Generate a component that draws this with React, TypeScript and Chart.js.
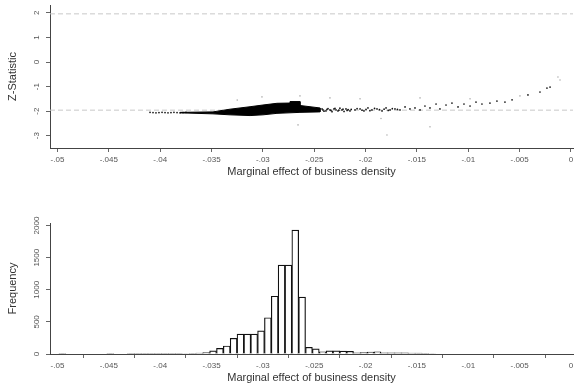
import React, { useEffect, useRef } from "react";
import { Chart, registerables } from "chart.js";

Chart.register(...registerables);

// ---- shared axis ticks ----
const xTickValues = [-0.05, -0.045, -0.04, -0.035, -0.03, -0.025, -0.02, -0.015, -0.01, -0.005, 0];
const xTickLabels = ["-.05", "-.045", "-.04", "-.035", "-.03", "-.025", "-.02", "-.015", "-.01", "-.005", "0"];
const xMin = -0.05073;
const xMax = 0.000195;

// ---- top panel: Z-statistic vs marginal effect ----
const zTickValues = [-3, -2, -1, 0, 1, 2];
const zTickLabels = ["-3", "-2", "-1", "0", "1", "2"];
const criticalZ = [1.96, -1.96];

// outline of the dense cloud of points
const wedgeX = [-0.03807, -0.03486, -0.0332, -0.03125, -0.02999, -0.02863, -0.02736, -0.02736, -0.02639, -0.02639, -0.02444,
  -0.02444, -0.02639, -0.02863, -0.02999, -0.03125, -0.0332, -0.03486, -0.03807];
const wedgeZ = [-2.05, -2.03, -1.92, -1.82, -1.75, -1.68, -1.67, -1.61, -1.61, -1.77, -1.87,
  -2.03, -2.05, -2.09, -2.15, -2.18, -2.15, -2.11, -2.07];

// individual points
const pointX = [
  -0.04099, -0.0407, -0.04041, -0.04012, -0.03982, -0.03953, -0.03924, -0.03895, -0.03866, -0.03836, -0.03807, -0.03778, -0.03749,
  -0.02424, -0.02386, -0.02347, -0.02308, -0.02269, -0.0223, -0.02191, -0.02152,
  -0.02405, -0.02366, -0.02327, -0.02288, -0.0225, -0.0221, -0.0217,
  -0.02415, -0.02376, -0.02337, -0.02298, -0.0226, -0.0222, -0.0218, -0.0214,
  -0.02103, -0.02054, -0.02016, -0.01977, -0.01938, -0.01889, -0.0184, -0.01801, -0.01762, -0.01714, -0.01665, -0.01616, -0.01568, -0.01519, -0.0147,
  -0.02083, -0.02035, -0.01996, -0.01958, -0.01913, -0.01865, -0.0182, -0.0178, -0.0174, -0.0169,
  -0.01422, -0.01373, -0.01314, -0.01276, -0.01217, -0.01159, -0.011, -0.01042, -0.00983, -0.00925, -0.00867, -0.00789, -0.00721, -0.00643, -0.00574,
  -0.00419, -0.00302, -0.00234, -0.00204,
];
const pointZ = [
  -2.05, -2.06, -2.07, -2.06, -2.05, -2.06, -2.07, -2.06, -2.05, -2.06, -2.07, -2.06, -2.05,
  -1.91, -1.99, -1.95, -1.91, -1.99, -1.95, -1.91, -1.99,
  -2.0, -1.9, -2.02, -1.95, -1.88, -2.01, -1.94,
  -1.95, -1.93, -1.97, -1.89, -1.96, -1.92, -1.97, -1.93,
  -1.95, -1.91, -1.99, -1.87, -1.95, -1.91, -1.99, -1.87, -1.95, -1.91, -1.95, -1.83, -1.91, -1.87, -1.95,
  -1.9, -1.96, -1.93, -1.98, -1.89, -1.94, -1.92, -1.97, -1.9, -1.93,
  -1.79, -1.87, -1.71, -1.91, -1.75, -1.67, -1.83, -1.71, -1.79, -1.63, -1.71, -1.67, -1.59, -1.63, -1.54,
  -1.34, -1.22, -1.06, -1.02,
];
const faintX = [-0.03009, -0.02639, -0.02347, -0.02054, -0.0147, -0.00983, -0.00497, -0.00127, -0.00107, -0.0325, -0.0185, -0.02658, -0.01792, -0.01373];
const faintZ = [-1.42, -1.38, -1.46, -1.5, -1.46, -1.5, -1.38, -0.61, -0.73, -1.55, -2.3, -2.56, -2.97, -2.64];

// ---- bottom panel: histogram ----
const freqTickValues = [0, 500, 1000, 1500, 2000];
const freqTickLabels = ["0", "500", "1000", "1500", "2000"];
const binStart = -0.04986;
const binWidth = 0.000667;
const freqCounts = [
  6, 0, 0, 0, 0, 0, 0, 5, 0, 0,
  3, 2, 3, 4, 4, 5, 6, 6, 8, 10,
  15, 22, 48, 88, 125, 245, 310, 310, 310, 360,
  565, 900, 1385, 1385, 1930, 885, 105, 80, 35, 50,
  48, 45, 40, 20, 22, 30, 35, 20, 20, 18,
  18, 15, 14, 12, 8,
];

const FONT = '"Liberation Sans", Arial, sans-serif';
const TICK_COLOR = "#555";
const AXIS_COLOR = "#444";

const rotatedYLabels = {
  id: "rotatedYLabels",
  afterDraw(chart: any, _args: any, opts: any) {
    const s = chart.scales.y;
    const ctx = chart.ctx;
    ctx.save();
    ctx.font = `8px ${FONT}`;
    ctx.fillStyle = TICK_COLOR;
    ctx.textAlign = "center";
    ctx.textBaseline = "middle";
    (opts.values as number[]).forEach((v, i) => {
      const y = s.getPixelForValue(v);
      ctx.save();
      ctx.translate(s.right - 13, y);
      ctx.rotate(-Math.PI / 2);
      ctx.fillText(opts.labels[i], 0, 0);
      ctx.restore();
    });
    ctx.restore();
  },
};

function xScale(titlePadBottom: number, height: number) {
  return {
    type: "linear",
    min: xMin,
    max: xMax,
    offset: false,
    afterBuildTicks: (s: any) => {
      s.ticks = xTickValues.map((v) => ({ value: v }));
    },
    afterFit: (s: any) => {
      s.height = height;
    },
    ticks: {
      autoSkip: false,
      maxRotation: 0,
      minRotation: 0,
      padding: 3,
      color: TICK_COLOR,
      font: { family: FONT, size: 8 },
      callback: (_v: any, i: number) => xTickLabels[i],
    },
    grid: { drawOnChartArea: false, drawTicks: true, tickLength: 4, color: "#666" },
    border: { display: true, color: AXIS_COLOR, width: 1 },
    title: {
      display: true,
      text: "Marginal effect of business density",
      color: "#333",
      font: { family: FONT, size: 11 },
      padding: { top: 0, bottom: titlePadBottom },
    },
  };
}

function yScale(min: number, max: number, values: number[], title: string) {
  return {
    type: "linear",
    min,
    max,
    afterBuildTicks: (s: any) => {
      s.ticks = values.map((v) => ({ value: v }));
    },
    afterFit: (s: any) => {
      s.width = 50;
    },
    ticks: { display: false },
    grid: { drawOnChartArea: false, drawTicks: true, tickLength: 4, color: "#666" },
    border: { display: true, color: AXIS_COLOR, width: 1 },
    title: {
      display: true,
      text: title,
      color: "#333",
      font: { family: FONT, size: 11 },
      padding: { top: 6, bottom: 0 },
    },
  };
}

export default function App() {
  const topRef = useRef<HTMLCanvasElement>(null);
  const botRef = useRef<HTMLCanvasElement>(null);

  useEffect(() => {
    const pts = (xs: number[], ys: number[]) => xs.map((x, i) => ({ x, y: ys[i] }));

    const top = new Chart(topRef.current!, {
      type: "scatter",
      data: {
        datasets: [
          {
            data: pts(wedgeX, wedgeZ),
            showLine: true,
            fill: "shape",
            backgroundColor: "#000",
            borderColor: "#000",
            borderWidth: 1,
            pointRadius: 0,
            tension: 0,
            order: 1,
          },
          {
            data: pts(pointX, pointZ),
            pointRadius: 0.85,
            pointBackgroundColor: "#111",
            pointBorderWidth: 0,
            order: 2,
          },
          {
            data: pts(faintX, faintZ),
            pointRadius: 0.8,
            pointBackgroundColor: "#b0b0b0",
            pointBorderWidth: 0,
            order: 3,
          },
          ...criticalZ.map((z) => ({
            data: [{ x: xMin, y: z }, { x: xMax, y: z }],
            showLine: true,
            borderColor: "#c8c8c8",
            borderWidth: 1,
            borderDash: [5, 3],
            pointRadius: 0,
            order: 10,
          })),
        ] as any,
      },
      options: {
        responsive: false,
        animation: false,
        events: [],
        layout: { padding: { top: 5, right: 6, left: 0, bottom: 0 } },
        plugins: {
          legend: { display: false },
          tooltip: { enabled: false },
          rotatedYLabels: { values: zTickValues, labels: zTickLabels },
        } as any,
        scales: {
          x: xScale(11.4, 42) as any,
          y: yScale(-3.5, 2.32, zTickValues, "Z-Statistic") as any,
        },
      },
      plugins: [rotatedYLabels],
    });

    const bot = new Chart(botRef.current!, {
      type: "bar",
      data: {
        datasets: [
          {
            data: freqCounts.map((c, i) => ({ x: binStart + (i + 0.5) * binWidth, y: c })),
            backgroundColor: "#fff",
            borderColor: "#111",
            borderWidth: 1.2,
            barPercentage: 1,
            categoryPercentage: 1,
          },
        ] as any,
      },
      options: {
        responsive: false,
        animation: false,
        events: [],
        layout: { padding: { top: 33, right: 6, left: 0, bottom: 0 } },
        plugins: {
          legend: { display: false },
          tooltip: { enabled: false },
          rotatedYLabels: { values: freqTickValues, labels: freqTickLabels },
        } as any,
        scales: {
          x: xScale(4.4, 35) as any,
          y: yScale(0, 2040, freqTickValues, "Frequency") as any,
        },
      },
      plugins: [rotatedYLabels],
    });

    return () => {
      top.destroy();
      bot.destroy();
    };
  }, []);

  return (
    <div style={{ position: "fixed", left: 0, top: 0, width: 579, height: 389, background: "#fff" }}>
      <canvas ref={topRef} width={579} height={190} style={{ position: "absolute", left: 0, top: 0, width: 579, height: 190 }} />
      <canvas ref={botRef} width={579} height={199} style={{ position: "absolute", left: 0, top: 190, width: 579, height: 199 }} />
    </div>
  );
}
